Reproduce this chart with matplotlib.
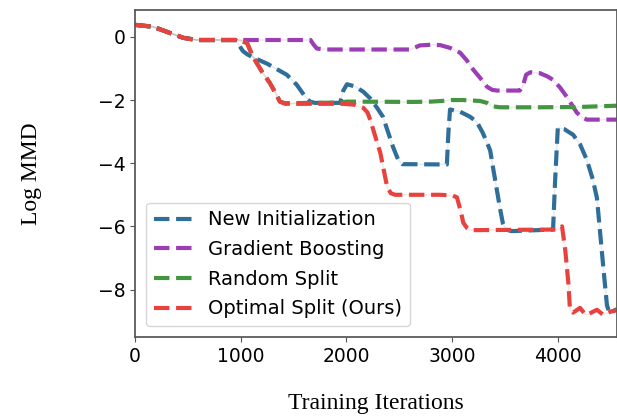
import matplotlib
matplotlib.use("Agg")
import matplotlib.pyplot as plt

# values (iterations, log MMD)
x_new = [0, 170, 300, 455, 585, 950, 990, 1020, 1060, 1115, 1250, 1435, 1530, 1600, 1655, 1700,
         1940, 1970, 2005, 2080, 2160, 2225, 2290, 2345, 2440, 2490, 2530, 2950, 2965, 2980, 3075,
         3170, 3235, 3290, 3330, 3360, 3390, 3455, 3480, 3510, 3560, 3955, 3975, 4000, 4060, 4145,
         4210, 4275, 4330, 4370, 4430, 4465, 4490, 4560]
y_new = [0.38, 0.32, 0.16, -0.03, -0.1, -0.1, -0.3, -0.45, -0.55, -0.65, -0.85, -1.2, -1.52, -1.85, -2.05, -2.09,
         -2.09, -1.7, -1.5, -1.57, -1.74, -1.95, -2.25, -2.53, -3.48, -3.9, -4.03, -4.04, -3.0, -2.3, -2.37,
         -2.53, -2.7, -3.04, -3.35, -3.6, -4.2, -5.47, -5.9, -6.1, -6.15, -6.1, -4.5, -2.88, -2.92, -3.1,
         -3.4, -3.9, -4.5, -5.1, -7.28, -8.5, -8.75, -8.62]

x_gb = [0, 170, 300, 455, 585, 1660, 1690, 1720, 1800, 2600, 2640, 2695, 2800, 2885, 2980, 3075, 3140,
        3200, 3265, 3330, 3380, 3425, 3640, 3670, 3700, 3740, 3830, 3900, 3955, 4020, 4085, 4180, 4230,
        4275, 4560]
y_gb = [0.38, 0.32, 0.16, -0.03, -0.1, -0.1, -0.25, -0.37, -0.4, -0.4, -0.35, -0.27, -0.25, -0.26, -0.35, -0.5, -0.75,
        -1.04, -1.3, -1.58, -1.68, -1.7, -1.7, -1.55, -1.2, -1.12, -1.15, -1.25, -1.36, -1.6, -1.9, -2.4, -2.55,
        -2.62, -2.62]

x_rand = [0, 170, 300, 455, 585, 950, 1000, 1060, 1115, 1200, 1275, 1340, 1370, 1420, 1950, 2000, 2630,
          2800, 2900, 3000, 3100, 3265, 3330, 3385, 3450, 3800, 4200, 4560]
y_rand = [0.38, 0.32, 0.16, -0.03, -0.1, -0.1, -0.12, -0.2, -0.63, -1.1, -1.46, -1.85, -2.05, -2.1, -2.08, -2.05, -2.06,
          -2.05, -2.03, -2.0, -2.0, -2.03, -2.09, -2.2, -2.23, -2.23, -2.22, -2.18]

x_opt = [0, 170, 300, 455, 585, 950, 1000, 1060, 1115, 1200, 1275, 1340, 1370, 1420, 1970, 2080, 2160,
         2200, 2225, 2320, 2385, 2420, 2460, 2885, 3000, 3045, 3080, 3105, 3140, 3170, 4000, 4040, 4070,
         4100, 4115, 4145, 4210, 4250, 4275, 4370, 4430, 4500, 4560]
y_opt = [0.38, 0.32, 0.16, -0.03, -0.1, -0.1, -0.12, -0.2, -0.63, -1.1, -1.46, -1.85, -2.05, -2.12, -2.12, -2.15, -2.25,
         -2.4, -2.63, -3.67, -4.75, -4.95, -5.0, -5.0, -5.02, -5.08, -5.5, -5.88, -6.05, -6.12, -6.1, -6.0, -6.74,
         -7.8, -8.64, -8.73, -8.58, -8.75, -8.8, -8.64, -8.8, -8.7, -8.64]

series = [
    ("New Initialization", x_new, y_new, "#2f6e99"),
    ("Gradient Boosting", x_gb, y_gb, "#9b3db5"),
    ("Random Split", x_rand, y_rand, "#43953f"),
    ("Optimal Split (Ours)", x_opt, y_opt, "#e8423f"),
]

fig = plt.figure(figsize=(6.17, 4.17), dpi=100)
ax = fig.add_axes([0.219, 0.192, 0.781, 0.784])

for label, xs, ys, c in series:
    ax.plot(xs, ys, color=c, lw=1.2, alpha=0.12)
    ax.plot(xs, ys, color=c, lw=3, ls="--", label=label)

ax.set_xlim(0, 4560)
ax.set_ylim(-9.5, 0.85)
ax.set_xticks([0, 1000, 2000, 3000, 4000])
ax.set_yticks([0, -2, -4, -6, -8])
ax.tick_params(labelsize=13.5, color="#555555")
for s in ax.spines.values():
    s.set_color("#555555")
    s.set_linewidth(1.25)

ax.set_xlabel("Training Iterations", family="Liberation Serif", fontsize=17, labelpad=20)
ax.set_ylabel("Log MMD", family="Liberation Serif", fontsize=17, labelpad=40)

ax.legend(loc="lower left", fontsize=14, labelspacing=0.55, borderaxespad=0.55)

fig.savefig("out.png", dpi=100)
